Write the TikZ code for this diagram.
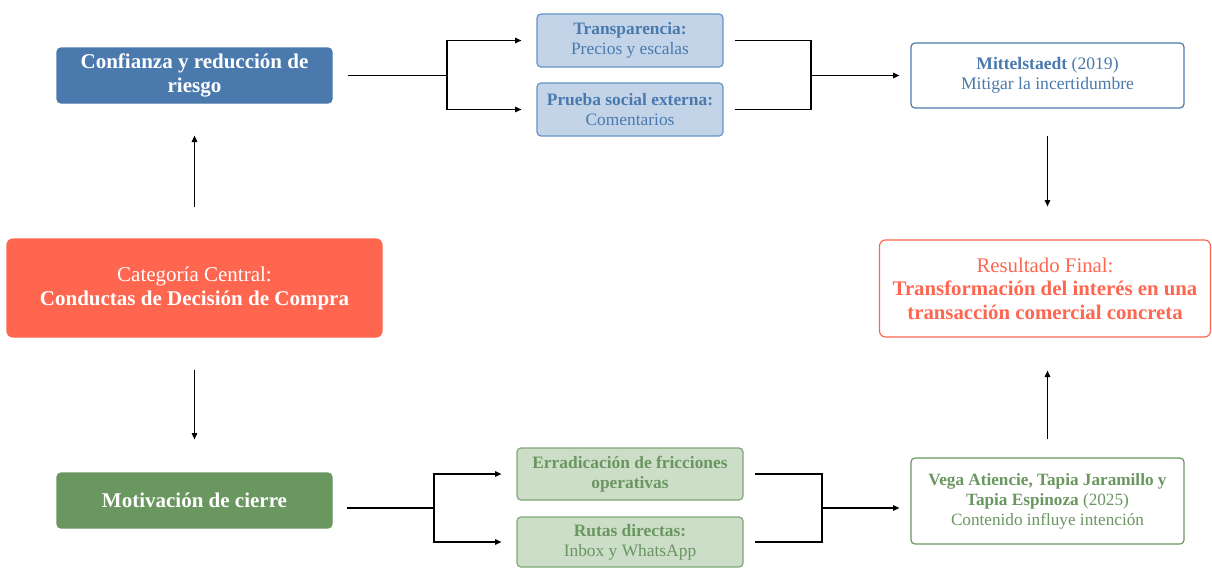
\documentclass[tikz,border=0pt]{standalone}
\usepackage{fontspec}
\setmainfont{Liberation Serif}
\usepackage{xcolor}
\usetikzlibrary{arrows.meta, positioning, calc}

\definecolor{confblue}{HTML}{4A7AAD}
\definecolor{lightblue}{HTML}{C3D4E8}
\definecolor{edgeblue}{HTML}{6494C6}
\definecolor{tomato}{HTML}{FF6650}
\definecolor{closegreen}{HTML}{6A9660}
\definecolor{lightgreen}{HTML}{CCDDC8}
\definecolor{edgegreen}{HTML}{7EA874}

\begin{document}
\begin{tikzpicture}[
  x=0.5pt, y=-0.5pt,
  box/.style={rectangle, rounded corners=2pt, align=center, inner sep=0pt, line width=0.6pt},
  mainbox/.style={box, fill=#1, draw=#1, text=white, minimum width=137.5pt, minimum height=27.5pt, font=\fontsize{10.5}{12.2}\selectfont\bfseries},
  subbox/.style={box, minimum height=26.5pt, font=\fontsize{8.7}{10}\selectfont},
  refbox/.style={box, fill=white, draw=#1, text=#1, minimum width=136.5pt, font=\fontsize{8.8}{10}\selectfont},
  line/.style={line width=0.6pt},
  arr/.style={line, -{Triangle[length=3.2pt,width=2.8pt]}}
]
\useasboundingbox (0,0) rectangle (1212,568);

% left column
\node[mainbox=confblue] (conf) at (194.5,75.5) {Confianza y reducción de\\riesgo};
\node[box, fill=tomato, draw=tomato, text=white, minimum width=187.5pt, minimum height=49pt, rounded corners=3pt,
  font=\fontsize{10.5}{12}\selectfont] (cat) at (194.5,288) {Categoría Central:\\{\bfseries Conductas de Decisión de Compra}};
\node[mainbox=closegreen] (mot) at (194.5,500.5) {Motivación de cierre};

% middle column
\node[subbox, fill=lightblue, draw=edgeblue, text=confblue, minimum width=93pt] (trans) at (630,40.5) {{\bfseries Transparencia:}\\Precios y escalas};
\node[subbox, fill=lightblue, draw=edgeblue, text=confblue, minimum width=93pt] (prueba) at (630,109.5) {{\bfseries Prueba social externa:}\\Comentarios};
\node[subbox, fill=lightgreen, draw=edgegreen, text=closegreen, minimum width=113pt, minimum height=26pt] (err) at (630,474) {\bfseries Erradicación de fricciones\\\bfseries operativas};
\node[subbox, fill=lightgreen, draw=edgegreen, text=closegreen, minimum width=113pt, minimum height=25pt] (rutas) at (630,542) {{\bfseries Rutas directas:}\\Inbox y WhatsApp};

% right column
\node[refbox=confblue, minimum height=32.5pt] (mitt) at (1047.5,75.5) {{\bfseries Mittelstaedt} (2019)\\Mitigar la incertidumbre};
\node[box, fill=white, draw=tomato, text=tomato, minimum width=165.5pt, minimum height=48.5pt, rounded corners=3pt,
  font=\fontsize{10.4}{11.7}\selectfont] (res) at (1045,288.5) {Resultado Final:\\{\bfseries Transformación del interés en una}\\{\bfseries transacción comercial concreta}};
\node[refbox=closegreen, minimum height=43pt, font=\fontsize{8.6}{10}\selectfont] (vega) at (1047.5,501) {{\bfseries Vega Atiencie, Tapia Jaramillo y}\\{\bfseries Tapia Espinoza} (2025)\\Contenido influye intención};

% branch points
\coordinate (splitT) at (447,75.5);
\coordinate (joinT) at (811,75.5);
\coordinate (splitB) at (434,508);
\coordinate (joinB) at (822,508);

% vertical flow
\draw[arr, shorten <=15.5pt, shorten >=16pt] (cat.north) -- (conf.south);
\draw[arr, shorten <=16pt, shorten >=16.5pt] (cat.south) -- (mot.north);
\draw[arr, shorten <=13.5pt, shorten >=16.5pt] (mitt.south) -- (mitt.south |- res.north);
\draw[arr, shorten <=9pt, shorten >=16.5pt] (vega.north) -- (vega.north |- res.south);

% top branch
\draw[line, shorten <=7.5pt] (conf.east) -- (splitT);
\draw[arr, shorten >=7.5pt] (splitT) |- (trans.west);
\draw[arr, shorten >=7.5pt] (splitT) |- (prueba.west);
\draw[line, shorten <=5.5pt] (trans.east) -| (joinT);
\draw[line, shorten <=5.5pt] (prueba.east) -| (joinT);
\draw[arr, shorten >=5.5pt] (joinT) -- (mitt.west);

% bottom branch
\draw[line, shorten <=7pt] (mot.east |- splitB) -- (splitB);
\draw[arr, shorten >=7.5pt] (splitB) |- (err.west);
\draw[arr, shorten >=7.5pt] (splitB) |- (rutas.west);
\draw[line, shorten <=5.5pt] (err.east) -| (joinB);
\draw[line, shorten <=5.5pt] (rutas.east) -| (joinB);
\draw[arr, shorten >=5.5pt] (joinB) -- (vega.west |- joinB);
\end{tikzpicture}
\end{document}
